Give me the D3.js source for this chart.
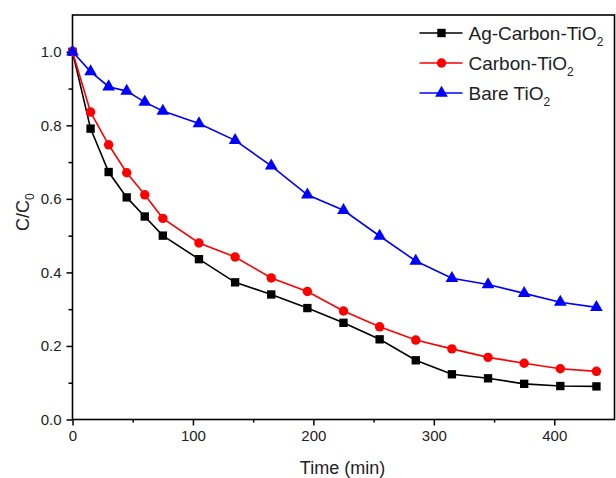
<!DOCTYPE html>
<html lang="en">
<head>
    <meta charset="UTF-8">
    <title>C/C0 vs Time</title>
    <script src="https://d3js.org/d3.v7.min.js"></script>
    <style>
        body { margin: 0; background: #fff; }
        text { font-family: Arial, "Liberation Sans", sans-serif; fill: #222; }
        .axis path { display: none; }
        .axis line { stroke: #000; stroke-width: 1.5; }
        .axis text { font-size: 15px; }
    </style>
</head>
<body>
    <svg id="chart" width="616" height="478"></svg>

    <script>
        // sampling times (min)
        const times = [0, 15, 30, 45, 60, 75, 105, 135, 165, 195, 225, 255, 285, 315, 345, 375, 405, 435];
        const agCarbon = [1.0, 0.791, 0.673, 0.604, 0.552, 0.500, 0.436, 0.373, 0.340, 0.303, 0.263, 0.218, 0.161, 0.123, 0.112, 0.097, 0.091, 0.090];
        const carbon = [1.0, 0.836, 0.747, 0.671, 0.611, 0.547, 0.480, 0.442, 0.385, 0.348, 0.295, 0.252, 0.216, 0.192, 0.169, 0.153, 0.138, 0.131];
        const bare = [1.0, 0.946, 0.905, 0.893, 0.863, 0.839, 0.805, 0.759, 0.690, 0.611, 0.569, 0.499, 0.431, 0.384, 0.367, 0.343, 0.319, 0.305];
        const seriesNames = ["Ag-Carbon-TiO", "Carbon-TiO", "Bare TiO"];
        const xMajor = [0, 100, 200, 300, 400];
        const xMinor = [50, 150, 250, 350];
        const yMajor = [0, 0.2, 0.4, 0.6, 0.8, 1.0];
        const yMinor = [0.1, 0.3, 0.5, 0.7, 0.9];

        const margin = { top: 15, right: 1.5, bottom: 58.5, left: 72.5 };
        const width = 616 - margin.left - margin.right;
        const height = 478 - margin.top - margin.bottom;

        const svg = d3.select("#chart")
            .append("g")
            .attr("transform", `translate(${margin.left},${margin.top})`);

        const x = d3.scaleLinear().domain([0, 450]).range([0, width]);
        const y = d3.scaleLinear().domain([0, 1.1]).range([height, 0]);

        //axes: major ticks with labels, minor ticks without
        svg.append("g").attr("class", "axis")
            .attr("transform", `translate(0,${height})`)
            .call(d3.axisBottom(x).tickValues(xMajor).tickSize(6).tickPadding(5).tickFormat(d3.format("d")));
        svg.append("g").attr("class", "axis")
            .attr("transform", `translate(0,${height})`)
            .call(d3.axisBottom(x).tickValues(xMinor).tickSize(3).tickFormat(""));
        svg.append("g").attr("class", "axis")
            .call(d3.axisLeft(y).tickValues(yMajor).tickSize(6).tickPadding(5).tickFormat(d3.format(".1f")));
        svg.append("g").attr("class", "axis")
            .call(d3.axisLeft(y).tickValues(yMinor).tickSize(4).tickFormat(""));

        //frame
        svg.append("rect")
            .attr("width", width).attr("height", height)
            .attr("fill", "none").attr("stroke", "#000").attr("stroke-width", 1.6);

        const series = [
            { name: seriesNames[0], values: agCarbon, color: "#000000", shape: d3.symbolSquare, size: 70 },
            { name: seriesNames[1], values: carbon, color: "#ff0000", shape: d3.symbolCircle, size: 70 },
            { name: seriesNames[2], values: bare, color: "#0000ff", shape: d3.symbolTriangle, size: 70 }
        ];

        const line = d3.line().x(d => x(d[0])).y(d => y(d[1]));

        series.forEach(s => {
            const pts = times.map((t, i) => [t, s.values[i]]);
            svg.append("path")
                .datum(pts)
                .attr("d", line)
                .attr("fill", "none")
                .attr("stroke", s.color)
                .attr("stroke-width", 1.6);
            svg.selectAll(null)
                .data(pts)
                .enter().append("path")
                .attr("transform", d => `translate(${x(d[0])},${y(d[1])})`)
                .attr("d", d3.symbol().type(s.shape).size(s.size))
                .attr("fill", s.color);
        });

        //legend
        const legend = svg.append("g").attr("transform", "translate(347,18)");
        series.forEach((s, i) => {
            const g = legend.append("g").attr("transform", `translate(0,${i * 30})`);
            g.append("line").attr("x1", 0).attr("x2", 43)
                .attr("stroke", s.color).attr("stroke-width", 1.6);
            g.append("path").attr("transform", "translate(22,0)")
                .attr("d", d3.symbol().type(s.shape).size(s.size)).attr("fill", s.color);
            const t = g.append("text").attr("x", 49).attr("y", 7).style("font-size", "19px");
            t.append("tspan").text(s.name);
            t.append("tspan").attr("dy", 6).style("font-size", "12px").text("2");
        });

        //axis labels
        svg.append("text")
            .attr("x", width / 2 - 1)
            .attr("y", height + 54)
            .attr("text-anchor", "middle")
            .style("font-size", "18px")
            .text("Time (min)");

        const yl = svg.append("text")
            .attr("transform", "rotate(-90)")
            .attr("x", -(height / 2 - 5))
            .attr("y", -44)
            .attr("text-anchor", "middle")
            .style("font-size", "18px");
        yl.append("tspan").text("C/C");
        yl.append("tspan").attr("dy", 5).style("font-size", "12px").text("0");
    </script>
</body>
</html>
